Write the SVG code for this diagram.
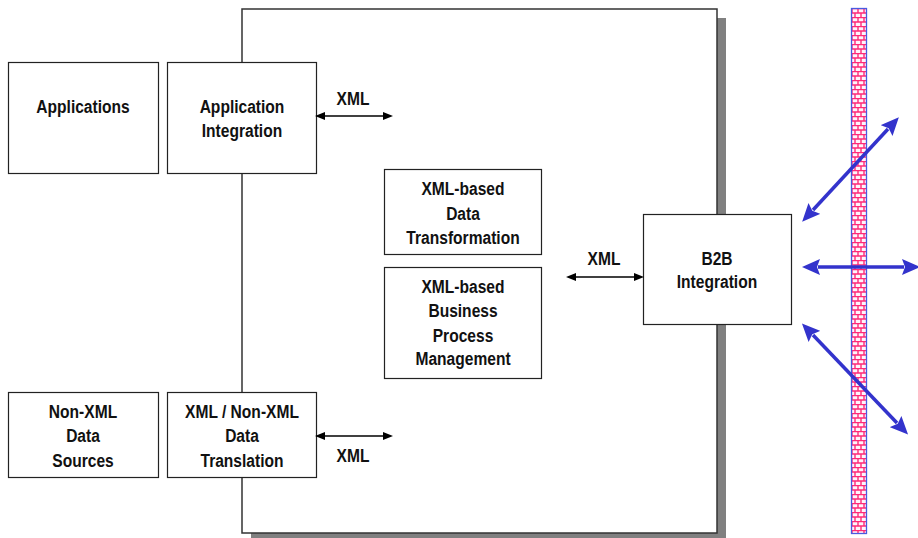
<svg xmlns="http://www.w3.org/2000/svg" width="918" height="538" viewBox="0 0 918 538">
<style>
.box{fill:#fff;stroke:#222;stroke-width:1.2}
.t{font-family:"Liberation Sans",Arial,sans-serif;font-weight:bold;font-size:19px;fill:#111;text-anchor:middle}
.ka{stroke:#000;stroke-width:1.3;fill:none}
.ba{stroke:#3333cc;stroke-width:3.5;fill:none}
</style>
<defs>
<marker id="kh" viewBox="0 0 10 8" refX="1" refY="4" markerWidth="10" markerHeight="8" markerUnits="userSpaceOnUse" orient="auto-start-reverse">
<path d="M0,0 L10,4 L0,8 z" fill="#000"/>
</marker>
<marker id="bh" viewBox="0 0 18 16" refX="2" refY="8" markerWidth="18" markerHeight="16" markerUnits="userSpaceOnUse" orient="auto-start-reverse">
<path d="M0,0 L18,8 L0,16 L3,8 z" fill="#3333cc"/>
</marker>
<pattern id="brick" patternUnits="userSpaceOnUse" x="851" y="8" width="12" height="9">
<rect width="12" height="9" fill="#fff4fa"/>
<path d="M0,0.5 H12 M0,5 H12 M1,0 V4.5 M7,0 V4.5 M4,4.5 V9 M10,4.5 V9" stroke="#ff2a78" stroke-width="1.4"/>
</pattern>
</defs>

<g id="container">
<rect x="251" y="18" width="475" height="524" fill="#808080"/>
<rect x="242" y="9" width="475" height="524" fill="#fff" stroke="#333" stroke-width="1.5"/>
</g>

<g id="firewall">
<rect x="851.5" y="8.5" width="15" height="525" fill="url(#brick)" stroke="#4a5ae0" stroke-width="1.3"/>
</g>

<g id="applications">
<rect class="box" x="8.5" y="62.5" width="150" height="111"/>
<text class="t" transform="translate(83 113) scale(0.82 1)">Applications</text>
</g>
<g id="app-integration">
<rect class="box" x="167.5" y="62.5" width="149" height="111"/>
<text class="t" transform="translate(242 113) scale(0.82 1)">Application</text>
<text class="t" transform="translate(242 137) scale(0.82 1)">Integration</text>
</g>
<g id="non-xml-sources">
<rect class="box" x="8.5" y="392.5" width="150" height="85"/>
<text class="t" transform="translate(83 418) scale(0.82 1)">Non-XML</text>
<text class="t" transform="translate(83 442) scale(0.82 1)">Data</text>
<text class="t" transform="translate(83 467) scale(0.82 1)">Sources</text>
</g>
<g id="data-translation">
<rect class="box" x="167.5" y="392.5" width="149" height="85"/>
<text class="t" transform="translate(242 418) scale(0.82 1)">XML / Non-XML</text>
<text class="t" transform="translate(242 442) scale(0.82 1)">Data</text>
<text class="t" transform="translate(242 467) scale(0.82 1)">Translation</text>
</g>
<g id="data-transformation">
<rect class="box" x="384.5" y="169.5" width="157" height="85"/>
<text class="t" transform="translate(463 195) scale(0.82 1)">XML-based</text>
<text class="t" transform="translate(463 220) scale(0.82 1)">Data</text>
<text class="t" transform="translate(463 244) scale(0.82 1)">Transformation</text>
</g>
<g id="bpm">
<rect class="box" x="384.5" y="267.5" width="157" height="111"/>
<text class="t" transform="translate(463 293) scale(0.82 1)">XML-based</text>
<text class="t" transform="translate(463 317) scale(0.82 1)">Business</text>
<text class="t" transform="translate(463 342) scale(0.82 1)">Process</text>
<text class="t" transform="translate(463 365) scale(0.82 1)">Management</text>
</g>
<g id="b2b">
<rect class="box" x="643.5" y="214.5" width="148" height="110"/>
<text class="t" transform="translate(717 265) scale(0.82 1)">B2B</text>
<text class="t" transform="translate(717 288) scale(0.82 1)">Integration</text>
</g>

<g id="connectors">
<line class="ka" x1="324" y1="116" x2="384" y2="116" marker-start="url(#kh)" marker-end="url(#kh)"/>
<text class="t" transform="translate(353 105) scale(0.82 1)">XML</text>
<line class="ka" x1="324" y1="436" x2="384" y2="436" marker-start="url(#kh)" marker-end="url(#kh)"/>
<text class="t" transform="translate(353 462) scale(0.82 1)">XML</text>
<line class="ka" x1="575" y1="277" x2="635" y2="277" marker-start="url(#kh)" marker-end="url(#kh)"/>
<text class="t" transform="translate(604 265) scale(0.82 1)">XML</text>
<line class="ba" x1="813" y1="210" x2="888" y2="129" marker-start="url(#bh)" marker-end="url(#bh)"/>
<line class="ba" x1="818" y1="267" x2="904" y2="267" marker-start="url(#bh)" marker-end="url(#bh)"/>
<line class="ba" x1="813" y1="335" x2="897" y2="423" marker-start="url(#bh)" marker-end="url(#bh)"/>
</g>
</svg>
